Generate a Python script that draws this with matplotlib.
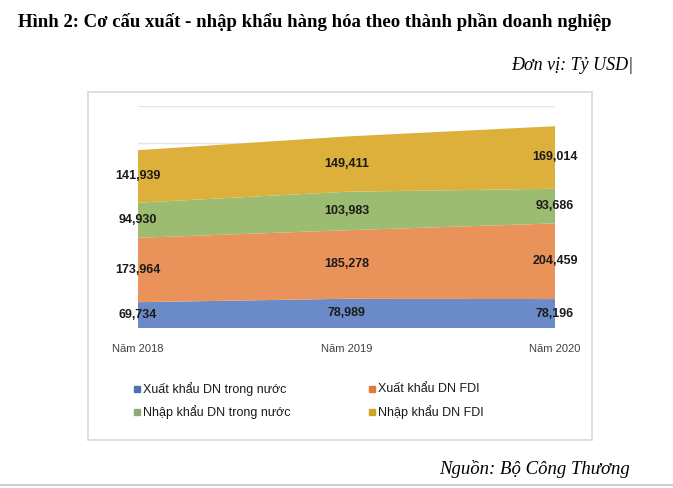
import matplotlib.pyplot as plt
from matplotlib.patches import Rectangle

years = ["Năm 2018", "Năm 2019", "Năm 2020"]
series_names = ["Xuất khẩu DN trong nước", "Xuất khẩu DN FDI",
                "Nhập khẩu DN trong nước", "Nhập khẩu DN FDI"]
xk_trong_nuoc = [69.734, 78.989, 78.196]
xk_fdi = [173.964, 185.278, 204.459]
nk_trong_nuoc = [94.930, 103.983, 93.686]
nk_fdi = [141.939, 149.411, 169.014]

area_colors = ["#6a8bc8", "#e9935a", "#9cbd71", "#ddb03c"]
legend_colors = ["#4d72b4", "#e07a36", "#8ea87b", "#d3a423"]

W, H = 673, 488
fig = plt.figure(figsize=(W / 100, H / 100), dpi=100)

def fx(px):
    return px / W

def fy(py):
    return 1 - py / H

# tieu de va don vi
fig.text(fx(18), fy(22), "Hình 2: Cơ cấu xuất - nhập khẩu hàng hóa theo thành phần doanh nghiệp",
         family="Liberation Serif", fontweight="bold", fontsize=13.5, va="center", ha="left")
fig.text(fx(633), fy(65), "Đơn vị: Tỷ USD|", family="Liberation Serif", style="italic",
         fontsize=13, va="center", ha="right")
fig.text(fx(630), fy(469), "Nguồn: Bộ Công Thương", family="Liberation Serif", style="italic",
         fontsize=13.5, va="center", ha="right")

# khung bieu do
fig.patches.append(Rectangle((fx(88), fy(440)), fx(592) - fx(88), fy(92) - fy(440),
                             transform=fig.transFigure, fill=False, edgecolor="#d9d9d9", lw=1.2))
fig.add_artist(plt.Line2D([0, 1], [fy(485), fy(485)], transform=fig.transFigure,
                          color="#cfcfcf", lw=1.5))

ax = fig.add_axes([fx(138), fy(328), fx(555) - fx(138), fy(106) - fy(328)])
x = range(len(years))
series = [xk_trong_nuoc, xk_fdi, nk_trong_nuoc, nk_fdi]
ax.stackplot(x, *series, colors=area_colors, lw=0)
ax.set_xlim(0, len(years) - 1)
ax.set_ylim(0, 600)
ax.set_yticks(range(0, 601, 100))
ax.yaxis.grid(True, color="#e4e4e4", lw=1)
ax.set_axisbelow(True)
ax.tick_params(left=False, labelleft=False, bottom=False)
ax.set_xticks(list(x))
ax.set_xticklabels(years, family="Liberation Sans", fontsize=8, color="#404040")
ax.tick_params(axis="x", pad=8)
for s in ax.spines.values():
    s.set_visible(False)

# nhan so lieu
for i in x:
    base = 0
    for s in series:
        v = s[i]
        ax.text(i, base + v / 2, f"{v:.3f}".replace(".", ","), ha="center", va="center",
                family="Liberation Sans", fontweight="bold", fontsize=9, color="#1a1a1a",
                clip_on=False)
        base += v

# chu thich
legend_pos = [(137, 389), (372, 389), (137, 412), (372, 412)]
for name, c, (px, py) in zip(series_names, legend_colors, legend_pos):
    fig.patches.append(Rectangle((fx(px - 3), fy(py + 3)), fx(6), 6 / H,
                                 transform=fig.transFigure, color=c))
    fig.text(fx(px + 6), fy(py), name, family="Liberation Sans", fontsize=9,
             color="#1a1a1a", va="center", ha="left")

fig.savefig("out.png", dpi=100)
